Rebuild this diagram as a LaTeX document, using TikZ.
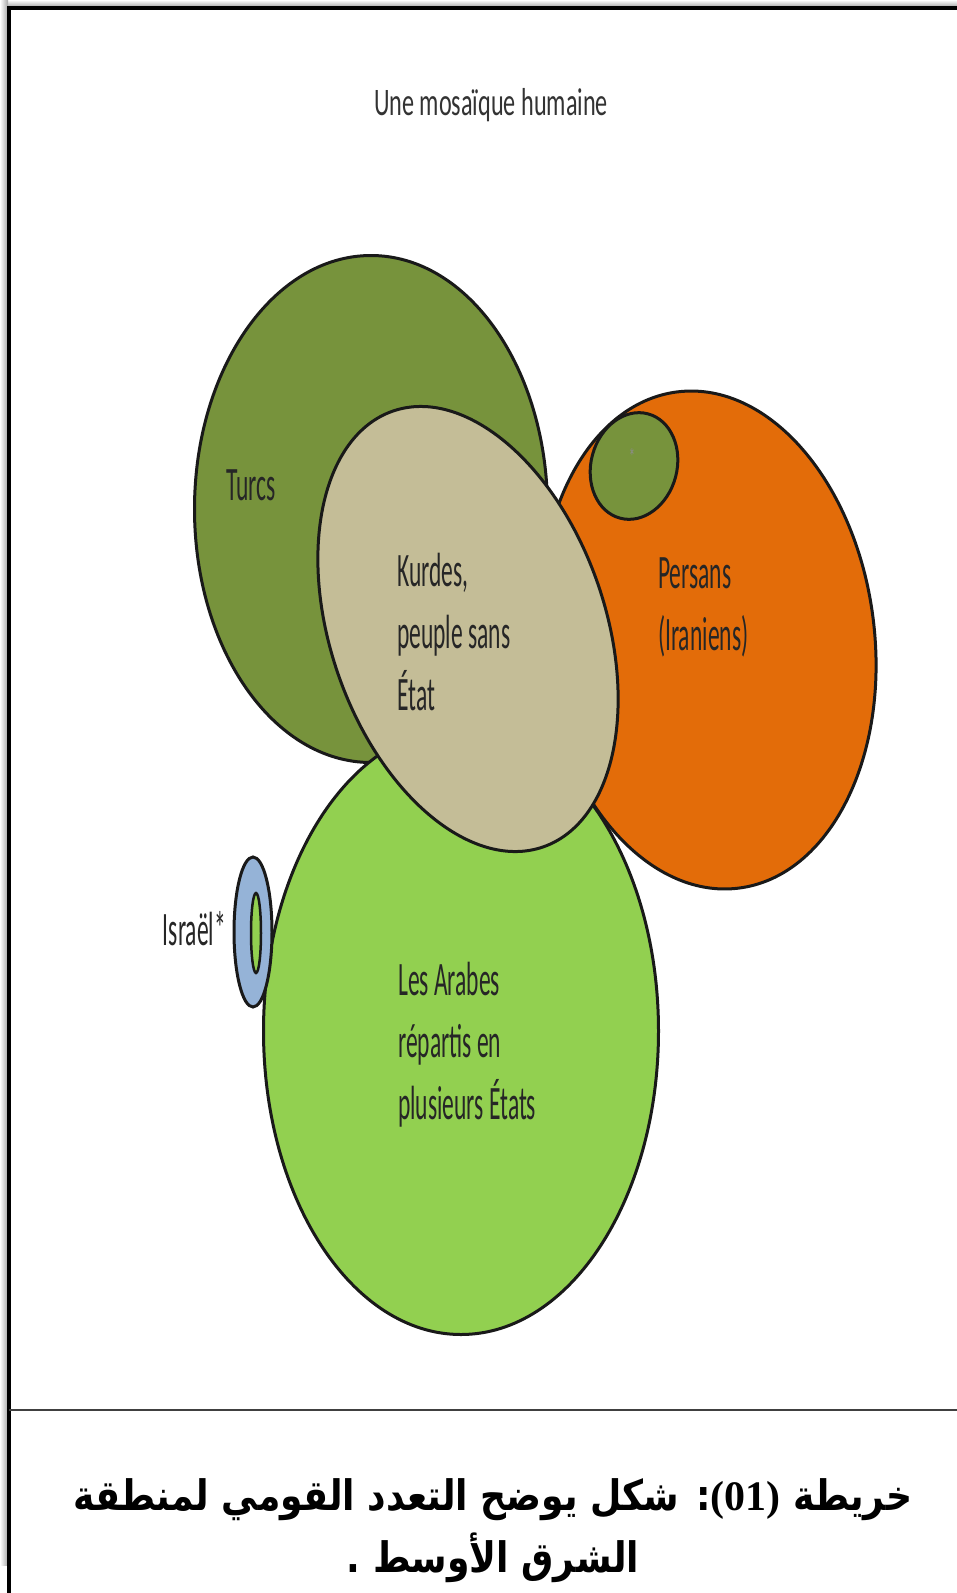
\documentclass[tikz,border=0pt]{standalone}
\usepackage{fontspec}
\setmainfont{Carlito}
\newfontfamily\labelfont{Carlito}[FakeStretch=0.49]
\newfontfamily\titlefont{Carlito}[FakeStretch=0.62]
\newfontfamily\arabicfont[Script=Arabic, FakeStretch=0.86]{DejaVu Sans}
\newfontfamily\numfont{Liberation Serif}
\TeXXeTstate=1
\usetikzlibrary{shapes.geometric}
\definecolor{turcsgreen}{RGB}{119,147,60}
\definecolor{persorange}{RGB}{227,108,9}
\definecolor{arabgreen}{RGB}{146,208,80}
\definecolor{kurdtan}{RGB}{196,189,151}
\definecolor{israelblue}{RGB}{149,179,215}
\begin{document}
\begin{tikzpicture}[x=1pt, y=-1pt,
    blob/.style={ellipse, draw=black!90, line width=3pt, inner sep=0pt},
    lbl/.style={font=\labelfont\fontsize{48}{62}\selectfont, text=black!85, align=left, inner sep=0pt}]
  \useasboundingbox (0,0) rectangle (957,1593);
  % Frame
  \shade[top color=white, bottom color=black!35] (0,0) rectangle (957,7);
  \shade[left color=white, right color=black!35] (0,0) rectangle (8,1565);
  \draw[line width=4pt] (9,1593) -- (9,8) -- (957,8);
  \draw[line width=1.5pt, black!75] (9,1410) -- (957,1410);

  \node[font=\titlefont\fontsize{39}{47}\selectfont, text=black!80, anchor=base] (title) at (491,115) {Une mosaïque humaine};

  % Nodes
  \node[blob, fill=turcsgreen, minimum width=353pt, minimum height=507pt] (turcs) at (371,509) {};
  \node[blob, fill=persorange, minimum width=333pt, minimum height=500pt, rotate=7] (persans) at (708,640) {};
  \node[blob, fill=arabgreen, minimum width=395pt, minimum height=607pt] (arabes) at (461,1031) {};
  \node[blob, fill=kurdtan, minimum width=275pt, minimum height=461pt, rotate=19] (kurdes) at (468,629) {};
  \node[blob, fill=turcsgreen, minimum width=86pt, minimum height=108pt, rotate=-15] (enclave) at (634,466) {};
  \node[font=\labelfont\fontsize{24}{24}\selectfont, text=black!45] (star) at (632,457) {*};
  \node[blob, fill=israelblue, minimum width=38pt, minimum height=150pt] (israel) at (253,932) {};
  \node[blob, fill=arabgreen, minimum width=10pt, minimum height=80pt, line width=2.5pt] (israelin) at (256,933) {};

  % Labels (base = last line)
  \node[lbl, anchor=base west] (turcslbl) at (226,500) {Turcs};
  \node[lbl, anchor=base west] (kurdeslbl) at (397,710) {Kurdes,\\peuple sans\\État};
  \node[lbl, anchor=base west] (persanslbl) at (658,650) {Persans\\(Iraniens)};
  \node[lbl, anchor=base west] (arabeslbl) at (398,1119) {Les Arabes\\répartis en\\plusieurs États};
  \node[lbl, anchor=base east] (israellbl) at (226,945) {Israël*};

  % Caption
  \node[font=\arabicfont\bfseries\fontsize{42}{62}\selectfont, align=center, anchor=base] (caption) at (493,1572)
    {\beginR خريطة \beginL{\numfont(01)}\endL: شكل يوضح التعدد القومي لمنطقة\endR\\\beginR الشرق الأوسط .\endR};
\end{tikzpicture}
\end{document}
